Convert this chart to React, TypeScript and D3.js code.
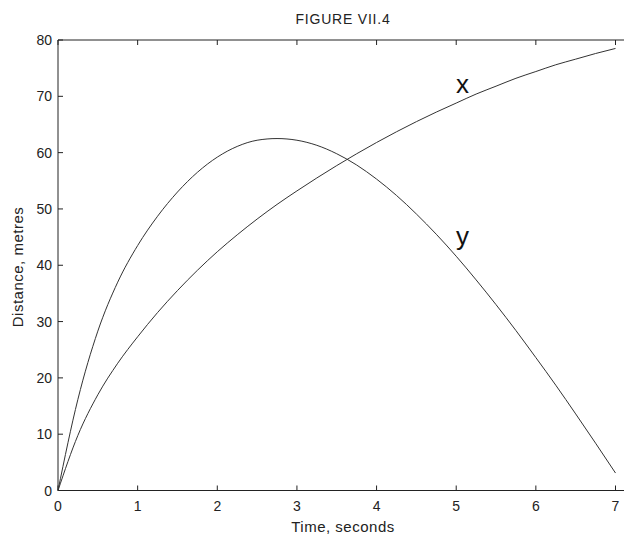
import React from 'react';
import * as d3 from 'd3';

// time samples (seconds)
const times = [0, 0.25, 0.5, 0.75, 1, 1.25, 1.5, 1.75, 2, 2.25, 2.5, 2.75, 3, 3.25, 3.5,
  3.75, 4, 4.25, 4.5, 4.75, 5, 5.25, 5.5, 5.75, 6, 6.25, 6.5, 6.75, 7];

// horizontal distance x (metres)
const xDist = [0, 9.8, 17.0, 22.6, 27.3, 31.6, 35.5, 39.1, 42.4, 45.4, 48.2, 50.8, 53.2, 55.5, 57.7,
  59.8, 61.8, 63.7, 65.5, 67.2, 68.8, 70.4, 71.8, 73.2, 74.4, 75.6, 76.6, 77.6, 78.5];

// vertical distance y (metres)
const yDist = [0, 16.2, 28.3, 37.0, 43.5, 48.7, 53.0, 56.5, 59.2, 61.1, 62.2, 62.5, 62.2, 61.3, 59.8,
  57.8, 55.3, 52.4, 49.1, 45.5, 41.6, 37.4, 33.0, 28.4, 23.6, 18.7, 13.6, 8.4, 3.1];

const xTicks = [0, 1, 2, 3, 4, 5, 6, 7];
const yTicks = [0, 10, 20, 30, 40, 50, 60, 70, 80];

const width = 624;
const height = 537;
const left = 58;
const top = 40;
const bottom = 490.5;
const font = '"Liberation Sans", Arial, sans-serif';
const ink = '#222';

export default function App() {
  const x = d3.scaleLinear().domain([0, 7]).range([left, 615.5]);
  const y = d3.scaleLinear().domain([0, 80]).range([bottom, top]);

  const line = d3.line<number>()
    .x((_, i) => x(times[i]))
    .y(d => y(d))
    .curve(d3.curveMonotoneX);

  // axes box runs past the right edge of the picture, so labels centre a bit right
  const mid = 343;

  return (
    <svg width={width} height={height}
      style={{ position: 'absolute', left: 0, top: 0, background: '#fff' }}
      fontFamily={font}>
      <rect width={width} height={height} fill="#fff" />

      <line x1={left} x2={width} y1={top} y2={top} stroke={ink} />
      <line x1={left} x2={width} y1={bottom} y2={bottom} stroke={ink} />
      <line x1={left} x2={left} y1={top} y2={bottom} stroke={ink} />

      {xTicks.map(t => (
        <g key={'x' + t}>
          <line x1={x(t)} x2={x(t)} y1={bottom} y2={bottom - 5} stroke={ink} />
          <line x1={x(t)} x2={x(t)} y1={top} y2={top + 5} stroke={ink} />
          <text x={x(t)} y={511} textAnchor="middle" fontSize={14} fill={ink}>{t}</text>
        </g>
      ))}

      {yTicks.map(t => (
        <g key={'y' + t}>
          <line x1={left} x2={left + 5} y1={y(t)} y2={y(t)} stroke={ink} />
          <text x={52} y={y(t) + 5} textAnchor="end" fontSize={14} fill={ink}>{t}</text>
        </g>
      ))}

      <path d={line(xDist) || ''} fill="none" stroke="#333" strokeWidth={1} />
      <path d={line(yDist) || ''} fill="none" stroke="#333" strokeWidth={1} />

      <text x={456} y={93} fontSize={26} fill="#111">x</text>
      <text x={456} y={245} fontSize={26} fill="#111">y</text>

      <text x={mid} y={24} textAnchor="middle" fontSize={14} letterSpacing={0.8} fill={ink}>FIGURE VII.4</text>
      <text x={mid} y={532} textAnchor="middle" fontSize={15} letterSpacing={0.5} fill={ink}>Time, seconds</text>
      <text transform={`translate(23,267) rotate(-90)`} textAnchor="middle" fontSize={15}
        letterSpacing={0.5} fill={ink}>Distance, metres</text>
    </svg>
  );
}
